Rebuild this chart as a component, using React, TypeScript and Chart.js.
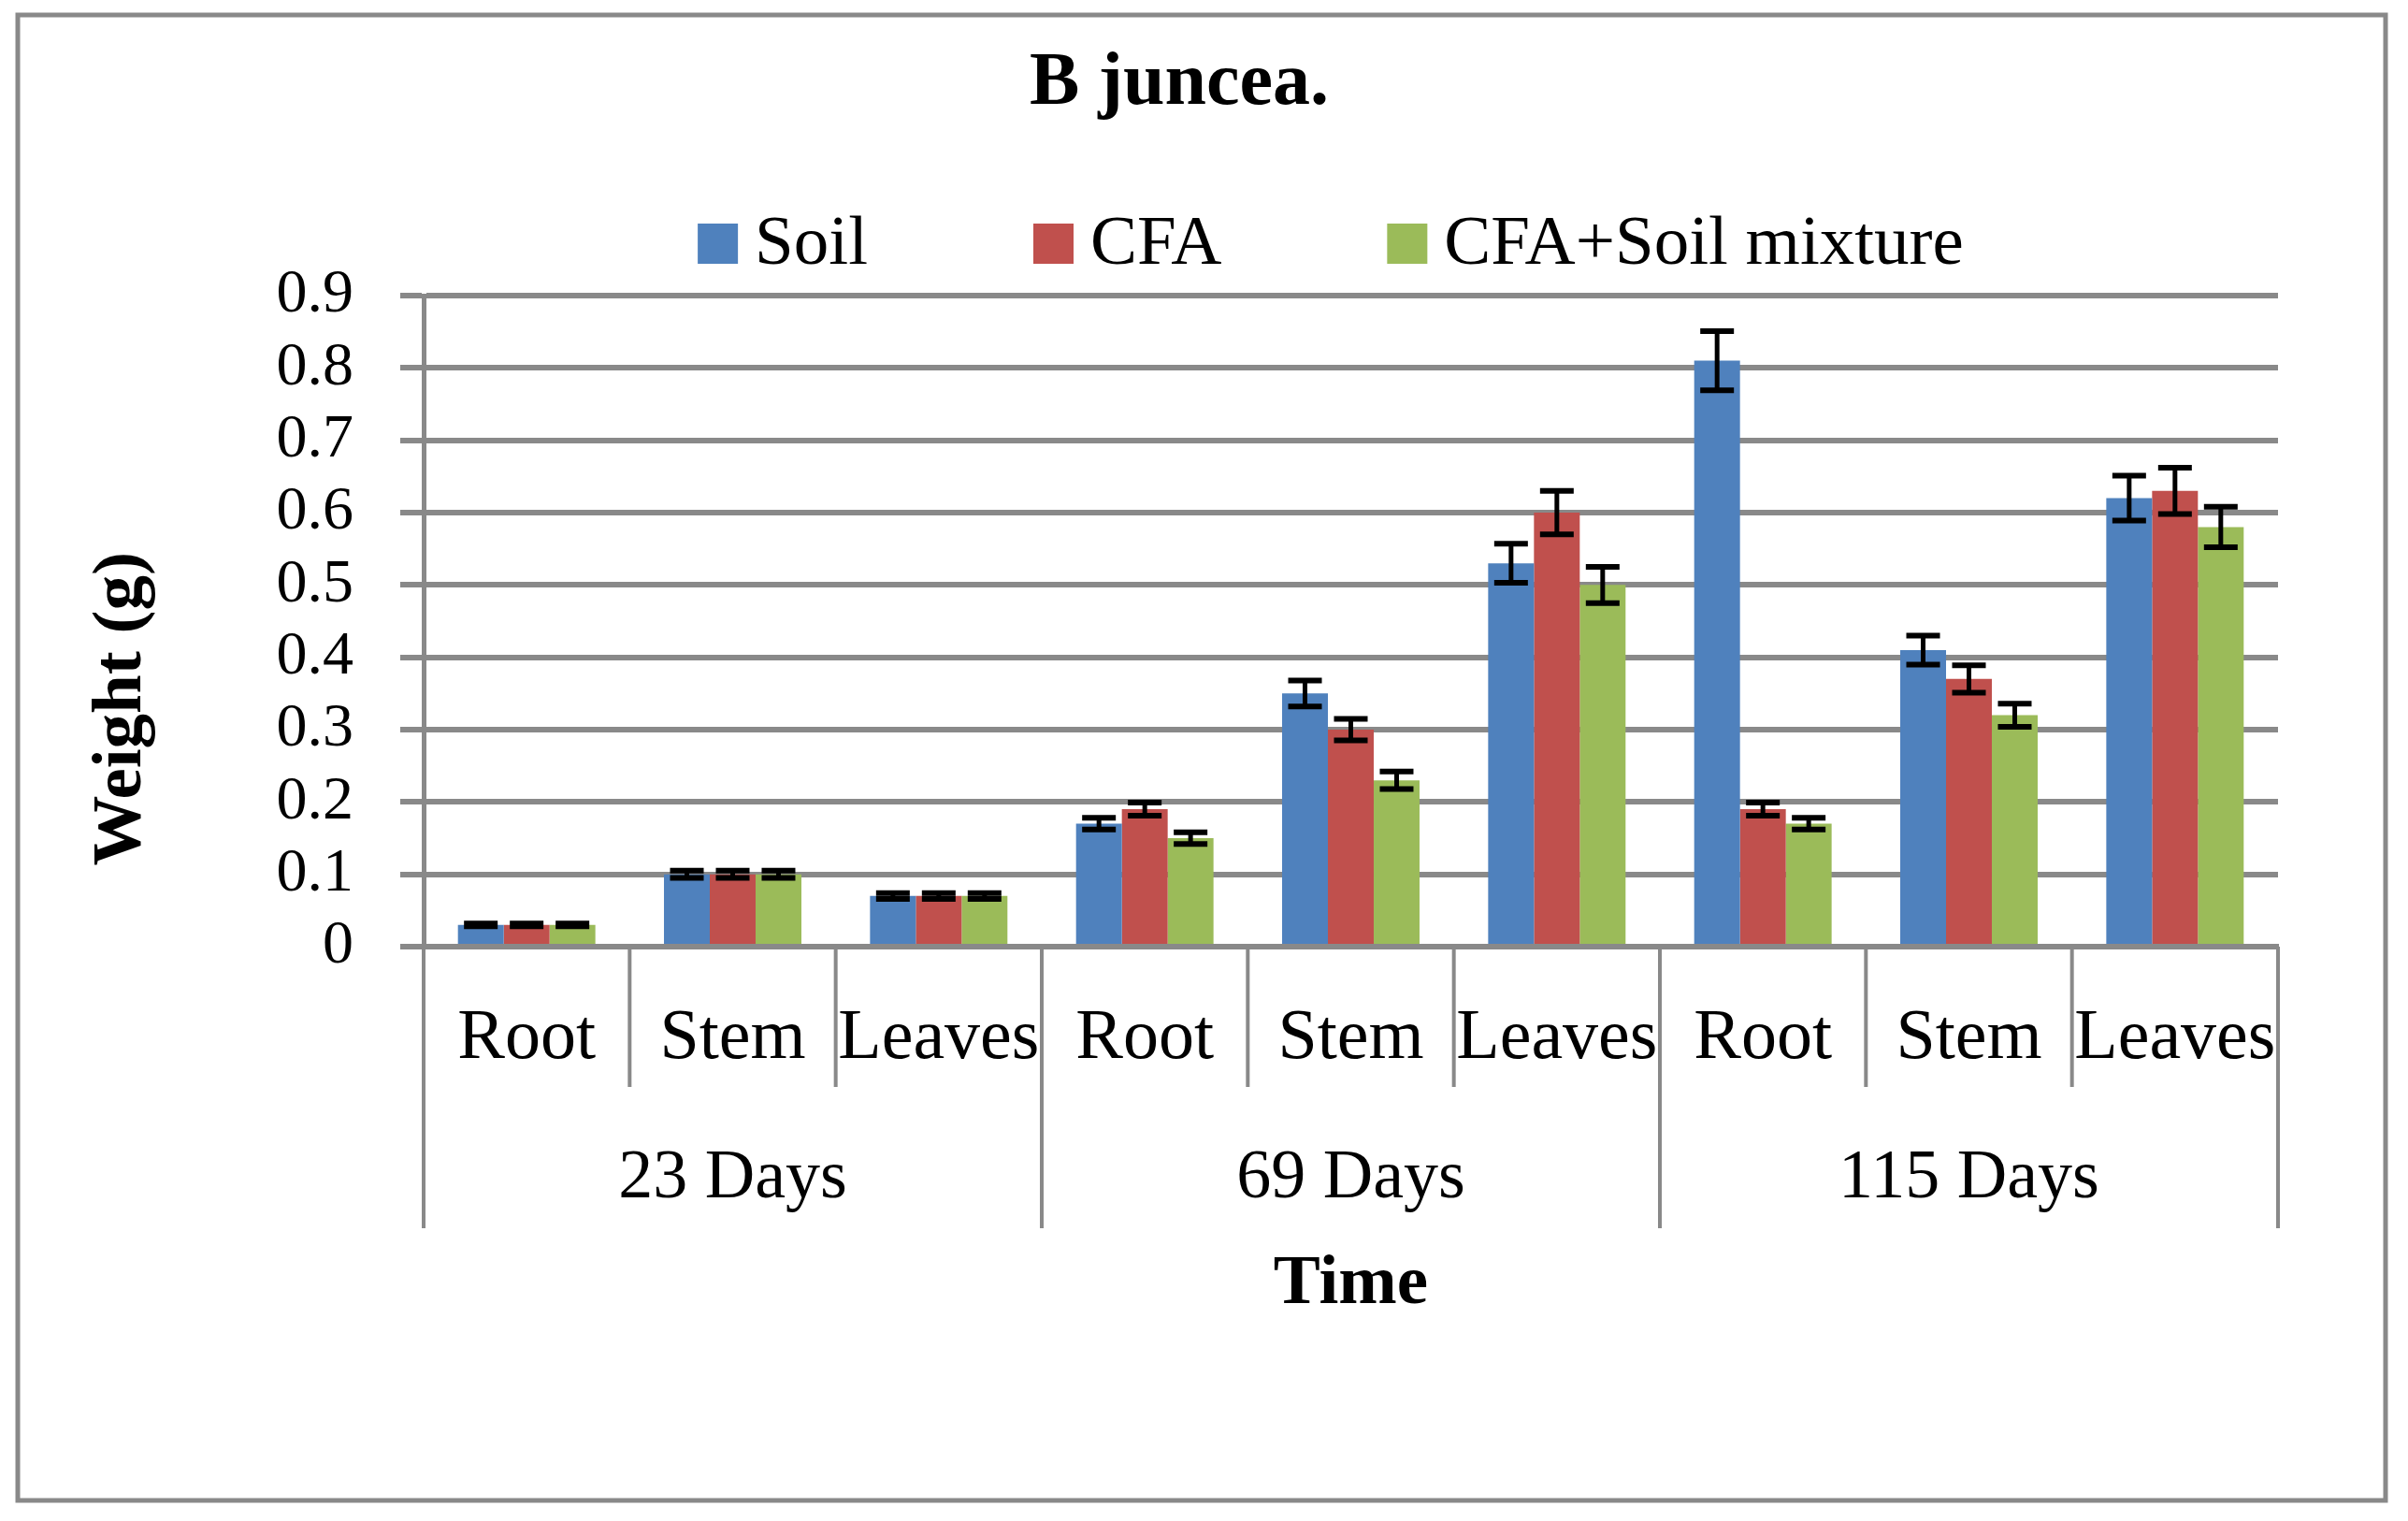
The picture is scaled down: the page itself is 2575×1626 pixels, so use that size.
import React, { useEffect, useRef } from 'react';
import { Chart, registerables } from 'chart.js';

Chart.register(...registerables);

// ---------- data ----------
const categories = ['Root', 'Stem', 'Leaves', 'Root', 'Stem', 'Leaves', 'Root', 'Stem', 'Leaves'];
const groups = ['23 Days', '69 Days', '115 Days'];
const seriesNames = ['Soil', 'CFA', 'CFA+Soil mixture'];

const soilValues = [0.03, 0.10, 0.07, 0.17, 0.35, 0.53, 0.81, 0.41, 0.62];
const cfaValues = [0.03, 0.10, 0.07, 0.19, 0.30, 0.60, 0.19, 0.37, 0.63];
const mixValues = [0.03, 0.10, 0.07, 0.15, 0.23, 0.50, 0.17, 0.32, 0.58];

const soilErrors = [0.002, 0.005, 0.004, 0.008, 0.018, 0.027, 0.041, 0.020, 0.031];
const cfaErrors = [0.002, 0.005, 0.004, 0.009, 0.015, 0.030, 0.009, 0.019, 0.032];
const mixErrors = [0.002, 0.005, 0.004, 0.008, 0.012, 0.025, 0.008, 0.016, 0.028];

const yTickLabels = ['0', '0.1', '0.2', '0.3', '0.4', '0.5', '0.6', '0.7', '0.8', '0.9'];

const titleText = 'B juncea.';
const yTitleText = 'Weight (g)';
const xTitleText = 'Time';

// ---------- styles ----------
const COLORS = ['#4F81BD', '#C0504D', '#9BBB59'];
const GRID = '#898989';
const FONT = "'Liberation Serif', 'Times New Roman', serif";

const LEG_FONT = 75;
const LEG_BOX = 43;
const LEG_TEXT_GAP = 18;
const LEG_ITEM_GAP = 177;
const LEG_CENTER_X = 1423;
const LEG_BASELINE = 282;

const SUB_SEP_LEN = 150;
const GROUP_SEP_LEN = 301;

const errorBarPlugin = {
  id: 'errorBars',
  afterDatasetsDraw(chart: any) {
    const ctx = chart.ctx;
    const yScale = chart.scales.y;
    chart.data.datasets.forEach((ds: any, i: number) => {
      const meta = chart.getDatasetMeta(i);
      if (meta.hidden) return;
      meta.data.forEach((bar: any, j: number) => {
        const v = ds.data[j];
        const e = ds.errors[j];
        const yTop = yScale.getPixelForValue(v + e);
        const yBot = yScale.getPixelForValue(v - e);
        const half = 18;
        ctx.save();
        ctx.strokeStyle = '#000';
        ctx.lineCap = 'butt';
        ctx.lineWidth = 5;
        ctx.beginPath();
        ctx.moveTo(bar.x, yTop);
        ctx.lineTo(bar.x, yBot);
        ctx.stroke();
        ctx.lineWidth = 6;
        ctx.beginPath();
        ctx.moveTo(bar.x - half, yTop);
        ctx.lineTo(bar.x + half, yTop);
        ctx.moveTo(bar.x - half, yBot);
        ctx.lineTo(bar.x + half, yBot);
        ctx.stroke();
        ctx.restore();
      });
    });
  },
};

const separatorPlugin = {
  id: 'categorySeparators',
  afterDraw(chart: any) {
    const ctx = chart.ctx;
    const xs = chart.scales.x;
    const n = categories.length;
    const groupSize = n / groups.length;
    const step = xs.getPixelForValue(1) - xs.getPixelForValue(0);
    const y0 = chart.chartArea.bottom;
    ctx.save();
    ctx.strokeStyle = GRID;
    ctx.lineWidth = 4;
    ctx.beginPath();
    for (let k = 0; k <= n; k++) {
      const px = k < n ? xs.getPixelForValue(k) - step / 2 : xs.getPixelForValue(n - 1) + step / 2;
      const len = k % groupSize === 0 ? GROUP_SEP_LEN : SUB_SEP_LEN;
      ctx.moveTo(px, y0);
      ctx.lineTo(px, y0 + len);
    }
    ctx.stroke();
    ctx.restore();
  },
};

const frameAndLegendPlugin = {
  id: 'frameAndLegend',
  beforeDraw(chart: any) {
    const ctx = chart.ctx;
    ctx.save();
    ctx.fillStyle = '#ffffff';
    ctx.fillRect(0, 0, chart.width, chart.height);
    ctx.strokeStyle = GRID;
    ctx.lineWidth = 5;
    ctx.strokeRect(19, 16, 2532, 1588);
    ctx.restore();
  },
  afterDraw(chart: any) {
    const ctx = chart.ctx;
    ctx.save();
    ctx.font = `${LEG_FONT}px ${FONT}`;
    ctx.textBaseline = 'alphabetic';
    ctx.textAlign = 'left';
    const items = chart.data.datasets.map((ds: any) => ({
      text: ds.label as string,
      color: ds.backgroundColor as string,
      w: ctx.measureText(ds.label).width,
    }));
    const total =
      items.reduce((s: number, it: any) => s + LEG_BOX + LEG_TEXT_GAP + it.w, 0) +
      LEG_ITEM_GAP * (items.length - 1);
    let x = LEG_CENTER_X - total / 2;
    items.forEach((it: any) => {
      ctx.fillStyle = it.color;
      ctx.fillRect(x, LEG_BASELINE - LEG_BOX, LEG_BOX, LEG_BOX);
      x += LEG_BOX + LEG_TEXT_GAP;
      ctx.fillStyle = '#000';
      ctx.fillText(it.text, x, LEG_BASELINE);
      x += it.w + LEG_ITEM_GAP;
    });
    ctx.restore();
  },
};

export default function App() {
  const canvasRef = useRef<HTMLCanvasElement | null>(null);

  useEffect(() => {
    document.body.style.margin = '0';
    document.body.style.overflow = 'hidden';
    const canvas = canvasRef.current;
    if (!canvas) return;
    Chart.defaults.font.family = FONT;

    const chart = new Chart(canvas, {
      type: 'bar',
      data: {
        labels: categories,
        datasets: [
          { label: seriesNames[0], data: soilValues, errors: soilErrors, backgroundColor: COLORS[0] } as any,
          { label: seriesNames[1], data: cfaValues, errors: cfaErrors, backgroundColor: COLORS[1] } as any,
          { label: seriesNames[2], data: mixValues, errors: mixErrors, backgroundColor: COLORS[2] } as any,
        ],
      },
      options: {
        animation: false,
        responsive: false,
        devicePixelRatio: 1,
        events: [],
        datasets: {
          bar: {
            categoryPercentage: 0.667,
            barPercentage: 1.0,
            borderWidth: 0,
          },
        },
        layout: {
          padding: { left: 86, right: 139, top: 20, bottom: 207 },
        },
        plugins: {
          legend: { display: false },
          tooltip: { enabled: false },
          title: {
            display: true,
            text: titleText,
            color: '#000',
            font: { size: 80, weight: 'bold', family: FONT },
            padding: { top: 22, bottom: 178 },
          },
        },
        scales: {
          x: {
            type: 'category',
            position: 'bottom',
            offset: true,
            grid: {
              display: false,
              drawOnChartArea: false,
              drawTicks: false,
              offset: true,
            },
            border: { display: true, color: GRID, width: 6 },
            ticks: {
              color: '#000',
              font: { size: 76, family: FONT },
              padding: 53.4,
              maxRotation: 0,
              minRotation: 0,
              autoSkip: false,
            },
          },
          x2: {
            type: 'category',
            labels: groups,
            position: 'bottom',
            offset: true,
            weight: 1,
            grid: {
              display: false,
              drawOnChartArea: false,
              drawTicks: false,
              offset: true,
            },
            border: { display: false },
            ticks: {
              color: '#000',
              font: { size: 74, family: FONT },
              padding: 6.6,
              maxRotation: 0,
              minRotation: 0,
              autoSkip: false,
            },
            title: {
              display: true,
              text: xTitleText,
              color: '#000',
              font: { size: 75, weight: 'bold', family: FONT },
              padding: { top: 17, bottom: 0 },
            },
          } as any,
          y: {
            min: 0,
            max: 0.9,
            ticks: {
              stepSize: 0.1,
              autoSkip: false,
              color: '#000',
              font: { size: 66, family: FONT },
              padding: 50,
              callback: (_v: any, i: number) => yTickLabels[i],
            },
            grid: {
              color: GRID,
              lineWidth: 6,
              tickLength: 25,
              drawTicks: true,
            },
            border: { display: true, color: GRID, width: 5 },
            title: {
              display: true,
              text: yTitleText + ' '.repeat(10),
              color: '#000',
              font: { size: 75, weight: 'bold', family: FONT },
              padding: { top: 0, bottom: 69.5 },
            },
          },
        },
      } as any,
      plugins: [errorBarPlugin, separatorPlugin, frameAndLegendPlugin],
    });

    return () => {
      chart.destroy();
    };
  }, []);

  return (
    <div style={{ width: 2575, height: 1626 }}>
      <canvas ref={canvasRef} width={2575} height={1626} style={{ display: 'block', width: 2575, height: 1626 }} />
    </div>
  );
}
